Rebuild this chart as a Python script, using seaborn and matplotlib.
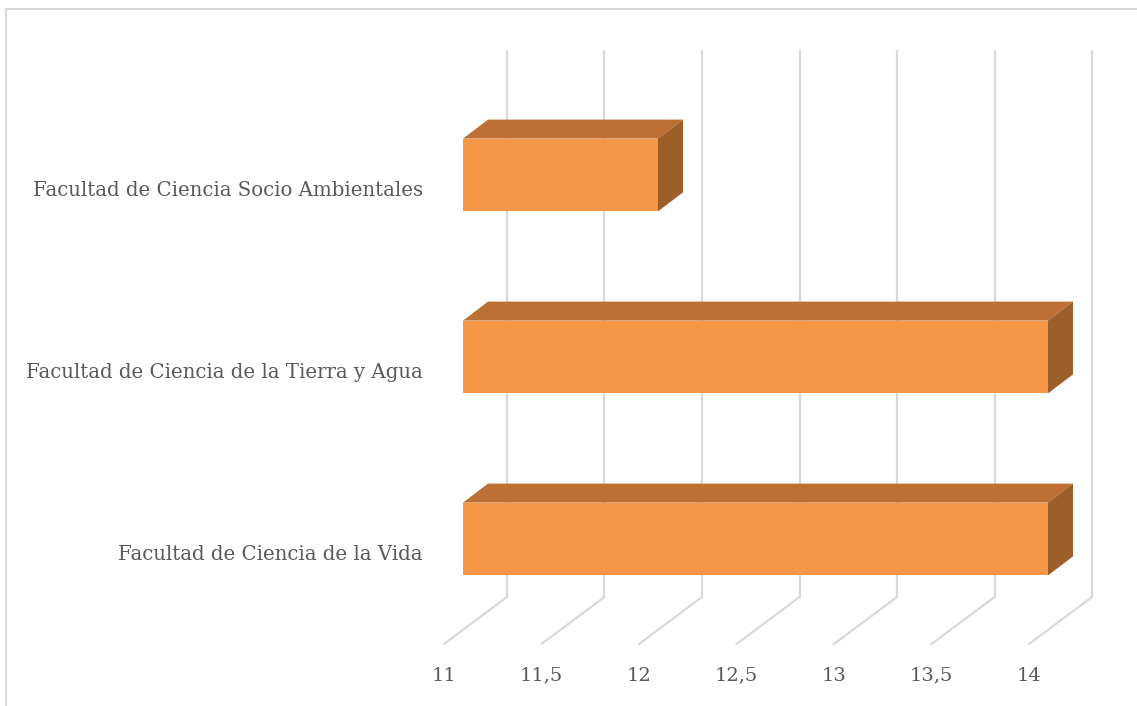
import matplotlib
matplotlib.use("Agg")
import matplotlib.pyplot as plt
import matplotlib.transforms as mtransforms
from matplotlib.patches import Polygon, Rectangle
from matplotlib.ticker import FuncFormatter
import seaborn as sns
import pandas as pd

# data
facultades = [
    "Facultad de Ciencia Socio Ambientales",
    "Facultad de Ciencia de la Tierra y Agua",
    "Facultad de Ciencia de la Vida",
]
valores = [12, 14, 14]
ticks = [11, 11.5, 12, 12.5, 13, 13.5, 14]

df = pd.DataFrame({"facultad": facultades, "valor": valores})

front_color = "#F79646"
top_color = "#BE7034"
side_color = "#9C5F2A"
grid_color = "#D9D9D9"
text_color = "#595959"

sns.set_theme(style="white")
plt.rcParams["font.family"] = ["DejaVu Serif"]

DPI = 100
fig = plt.figure(figsize=(11.37, 7.06), dpi=DPI)
ax = fig.add_axes([463 / 1137, 76 / 706, 585 / 1137, 546 / 706])
ax.patch.set_alpha(0)

sns.barplot(data=df, x="valor", y="facultad", orient="h", color=front_color,
            width=0.4, saturation=1, ax=ax, zorder=4)
ax.set_xlim(11, 14)
ax.set_ylim(2.5, -0.5)
ax.set_xlabel("")
ax.set_ylabel("")
for s in ax.spines.values():
    s.set_visible(False)


def shifted(dx, dy):
    # offset in pixels (dy positive = up)
    return ax.transData + mtransforms.ScaledTranslation(dx / DPI, dy / DPI, fig.dpi_scale_trans)


# back wall gridlines and floor diagonals
wall = shifted(44, 33)
for v in ticks:
    ax.plot([v, v], [-0.5, 2.5], color=grid_color, lw=1.6, transform=wall,
            clip_on=False, zorder=0)
    p_back = ax.transData.transform((v, 2.5)) + [44, 33]
    p_front = ax.transData.transform((v, 2.5)) + [-19, -14]
    ax.plot([p_back[0], p_front[0]], [p_back[1], p_front[1]], color=grid_color,
            lw=1.6, transform=None, clip_on=False, zorder=0)

# 3D faces of the bars
fig.canvas.draw()
dx, dy = 25, 19
for p in list(ax.patches):
    x0 = max(p.get_x(), 11)
    x1 = p.get_x() + p.get_width()
    y_top = min(p.get_y(), p.get_y() + p.get_height())
    y_bot = max(p.get_y(), p.get_y() + p.get_height())
    tl = ax.transData.transform((x0, y_top))
    tr = ax.transData.transform((x1, y_top))
    br = ax.transData.transform((x1, y_bot))
    top = Polygon([tl, tr, tr + [dx, dy], tl + [dx, dy]], closed=True,
                  facecolor=top_color, edgecolor="none", transform=None,
                  zorder=3, clip_on=False)
    side = Polygon([tr, br, br + [dx, dy], tr + [dx, dy]], closed=True,
                   facecolor=side_color, edgecolor="none", transform=None,
                   zorder=3, clip_on=False)
    ax.add_artist(top)
    ax.add_artist(side)
    p.set_edgecolor("none")

# ticks
ax.set_xticks(ticks)
ax.xaxis.set_major_formatter(FuncFormatter(lambda v, pos: f"{v:g}".replace(".", ",")))
ax.tick_params(axis="x", length=0, pad=36.5, labelsize=14, labelcolor=text_color)
ax.tick_params(axis="y", length=0, pad=28.8, labelsize=14.2, labelcolor=text_color)
off_x = mtransforms.ScaledTranslation(-19 / DPI, 0, fig.dpi_scale_trans)
for lab in ax.get_xticklabels():
    lab.set_transform(lab.get_transform() + off_x)
    lab.set_verticalalignment("baseline")
off_y = mtransforms.ScaledTranslation(0, -14 / DPI, fig.dpi_scale_trans)
for lab in ax.get_yticklabels():
    lab.set_transform(lab.get_transform() + off_y)

# chart frame
fig.patches.append(Rectangle((6 / 1137, -0.01), 1.01, (706 - 9) / 706 + 0.01,
                             transform=fig.transFigure, fill=False,
                             edgecolor=grid_color, lw=1.5))

fig.savefig("out.png", dpi=DPI)
